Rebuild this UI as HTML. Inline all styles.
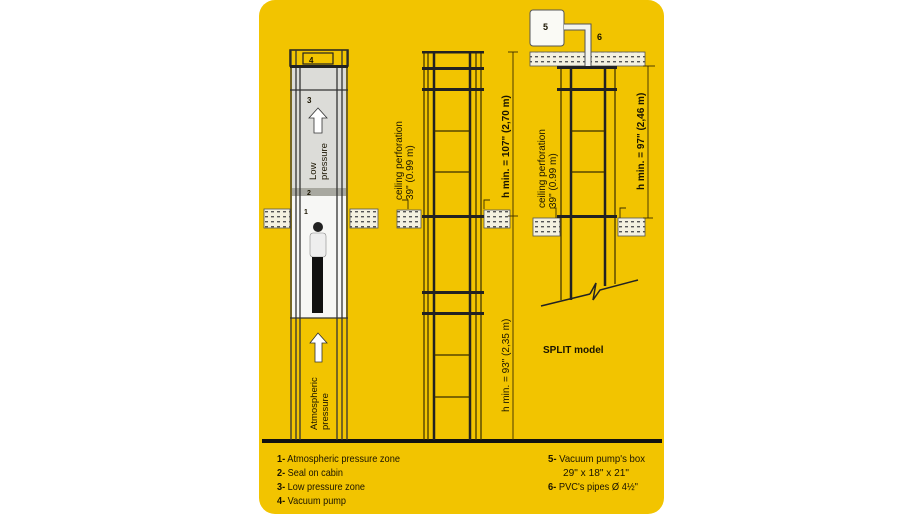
<!DOCTYPE html>
<html><head><meta charset="utf-8"><style>
html,body{margin:0;padding:0;background:#fff;width:915px;height:514px;overflow:hidden}
svg text{font-family:"Liberation Sans",sans-serif;fill:#1a1400}
</style></head><body>
<svg width="915" height="514" viewBox="0 0 915 514" xmlns="http://www.w3.org/2000/svg">
<defs>
<pattern id="hatch" width="6" height="5" patternUnits="userSpaceOnUse">
<rect width="6" height="5" fill="#f4f1e0"/>
<rect x="1" y="1" width="3" height="1.4" fill="#555"/>
</pattern>
</defs>
<rect x="259" y="0" width="405" height="514" rx="16" fill="#f2c400"/>

<rect x="262" y="439" width="400" height="4" fill="#111"/>

<!-- LEFT SHAFT -->
<rect x="292" y="66" width="54" height="123" fill="#dcdcd8"/>
<rect x="292" y="196" width="54" height="122" fill="#f7f7f5"/>
<rect x="292" y="188" width="54" height="8" fill="#a8a8a0"/>
<rect x="290" y="50" width="58" height="16" fill="#f2c400" stroke="#222" stroke-width="1.5"/>
<rect x="303" y="53" width="30" height="11" fill="#f2c400" stroke="#222" stroke-width="1.2"/>
<text x="309" y="63" font-size="8" font-weight="bold">4</text>
<g stroke="#333" stroke-width="1.3" fill="none">
<line x1="291" y1="50" x2="291" y2="440"/>
<line x1="296" y1="50" x2="296" y2="440"/>
<line x1="300" y1="66" x2="300" y2="440"/>
<line x1="337" y1="66" x2="337" y2="440"/>
<line x1="342" y1="50" x2="342" y2="440"/>
<line x1="347" y1="50" x2="347" y2="440"/>
<line x1="290" y1="90" x2="348" y2="90"/>
<line x1="290" y1="318" x2="348" y2="318"/>
</g>
<rect x="290" y="65" width="58" height="3" fill="#222"/>
<text x="307" y="103" font-size="8" font-weight="bold">3</text>
<polygon points="318,108 309,118 314,118 314,133 322,133 322,118 327,118" fill="#fff" stroke="#333" stroke-width="0.8"/>
<text transform="translate(316,180) rotate(-90)" font-size="9.5">Low</text>
<text transform="translate(327,180) rotate(-90)" font-size="9.5">pressure</text>
<text x="307" y="195" font-size="7" font-weight="bold">2</text>
<text x="304" y="214" font-size="7" font-weight="bold">1</text>
<circle cx="318" cy="227" r="5" fill="#222"/>
<rect x="310" y="233" width="16" height="24" rx="3" fill="#eee" stroke="#888" stroke-width="0.6"/>
<rect x="312" y="257" width="11" height="56" fill="#111"/>
<polygon points="318,333 310,343 315,343 315,362 322,362 322,343 327,343" fill="#fff" stroke="#333" stroke-width="0.8"/>
<text transform="translate(317,430) rotate(-90)" font-size="9.5">Atmospheric</text>
<text transform="translate(328,430) rotate(-90)" font-size="9.5">pressure</text>

<g stroke="#555" stroke-width="0.8">
<rect x="264" y="209" width="26" height="19" fill="url(#hatch)"/>
<rect x="350" y="209" width="28" height="19" fill="url(#hatch)"/>
<rect x="397" y="210" width="24" height="18" fill="url(#hatch)"/>
<rect x="484" y="210" width="26" height="18" fill="url(#hatch)"/>
<rect x="533" y="218" width="27" height="18" fill="url(#hatch)"/>
<rect x="618" y="218" width="27" height="18" fill="url(#hatch)"/>
<rect x="530" y="52" width="115" height="14" fill="url(#hatch)"/>
</g>

<!-- MIDDLE SHAFT -->
<g stroke="#3a2e00" fill="none">
<line x1="424" y1="52" x2="424" y2="440" stroke-width="1.2"/>
<line x1="428" y1="52" x2="428" y2="440" stroke-width="1.2"/>
<line x1="434" y1="52" x2="434" y2="440" stroke-width="2.5" stroke="#222"/>
<line x1="470" y1="52" x2="470" y2="440" stroke-width="2.5" stroke="#222"/>
<line x1="476" y1="52" x2="476" y2="440" stroke-width="1.2"/>
<line x1="481" y1="52" x2="481" y2="440" stroke-width="1.2"/>
<line x1="434" y1="131" x2="470" y2="131" stroke-width="1.2"/>
<line x1="434" y1="172" x2="470" y2="172" stroke-width="1.2"/>
<line x1="434" y1="355" x2="470" y2="355" stroke-width="1.2"/>
<line x1="434" y1="397" x2="470" y2="397" stroke-width="1.2"/>
</g>
<g fill="#222">
<rect x="422" y="51" width="62" height="2.5"/>
<rect x="422" y="67" width="62" height="3"/>
<rect x="422" y="88" width="62" height="3"/>
<rect x="422" y="215" width="62" height="3"/>
<rect x="422" y="291" width="62" height="3"/>
<rect x="422" y="312" width="62" height="3"/>
</g>
<g stroke="#3a2e00" stroke-width="0.9" fill="none">
<line x1="513" y1="52" x2="513" y2="440"/>
<line x1="508" y1="52" x2="518" y2="52"/>
<line x1="508" y1="216" x2="518" y2="216"/>
<polyline points="408,209 408,200 402,200"/>
<polyline points="484,209 484,200 490,200"/>
</g>
<text transform="translate(402,200) rotate(-90)" font-size="10">ceiling perforation</text>
<text transform="translate(413,200) rotate(-90)" font-size="10">39" (0.99 m)</text>
<text transform="translate(509,198) rotate(-90)" font-size="10" font-weight="bold">h min. = 107" (2,70 m)</text>
<text transform="translate(509,412) rotate(-90)" font-size="10">h min. = 93" (2,35 m)</text>

<!-- RIGHT SHAFT -->
<rect x="530" y="10" width="34" height="36" rx="3" fill="#fafaf5" stroke="#555" stroke-width="1"/>
<text x="543" y="30" font-size="9" font-weight="bold">5</text>
<path d="M564,27 H588 V66" fill="none" stroke="#555" stroke-width="7"/>
<path d="M564,27 H588 V66" fill="none" stroke="#f4f4ee" stroke-width="5"/>
<text x="597" y="40" font-size="9" font-weight="bold">6</text>
<g stroke="#3a2e00" fill="none">
<line x1="561" y1="66" x2="561" y2="300" stroke-width="1.2"/>
<line x1="571" y1="66" x2="571" y2="300" stroke-width="2.5" stroke="#222"/>
<line x1="605" y1="66" x2="605" y2="286" stroke-width="2.5" stroke="#222"/>
<line x1="615" y1="66" x2="615" y2="284" stroke-width="1.2"/>
<line x1="571" y1="131" x2="605" y2="131" stroke-width="1.2"/>
<line x1="571" y1="172" x2="605" y2="172" stroke-width="1.2"/>
<line x1="541" y1="306" x2="590" y2="294" stroke-width="1.5" stroke="#222"/>
<polyline points="590,294 596,283 593,300 600,290 638,280" stroke-width="1.5" stroke="#222"/>
<line x1="648" y1="66" x2="648" y2="218" stroke-width="0.9"/>
<line x1="643" y1="66" x2="655" y2="66" stroke-width="0.9"/>
<line x1="643" y1="218" x2="653" y2="218" stroke-width="0.9"/>
<polyline points="556,218 556,208 550,208" stroke-width="0.9"/>
<polyline points="620,218 620,208 626,208" stroke-width="0.9"/>
</g>
<g fill="#222">
<rect x="557" y="66" width="60" height="3"/>
<rect x="557" y="88" width="60" height="3"/>
<rect x="557" y="215" width="60" height="3"/>
</g>
<text transform="translate(545,208) rotate(-90)" font-size="10">ceiling perforation</text>
<text transform="translate(556,208) rotate(-90)" font-size="10">39" (0.99 m)</text>
<text transform="translate(644,190) rotate(-90)" font-size="10" font-weight="bold">h min. = 97" (2,46 m)</text>
<text x="543" y="353" font-size="10" font-weight="bold">SPLIT model</text>

<g font-size="10.5">
<text x="277" y="462" textLength="123" lengthAdjust="spacingAndGlyphs"><tspan font-weight="bold">1-</tspan> Atmospheric  pressure zone</text>
<text x="277" y="476" textLength="66" lengthAdjust="spacingAndGlyphs"><tspan font-weight="bold">2-</tspan> Seal on cabin</text>
<text x="277" y="490" textLength="88" lengthAdjust="spacingAndGlyphs"><tspan font-weight="bold">3-</tspan> Low pressure zone</text>
<text x="277" y="504" textLength="69" lengthAdjust="spacingAndGlyphs"><tspan font-weight="bold">4-</tspan> Vacuum pump</text>
<text x="548" y="462" textLength="97" lengthAdjust="spacingAndGlyphs"><tspan font-weight="bold">5-</tspan> Vacuum pump's box</text>
<text x="563" y="476" textLength="66" lengthAdjust="spacingAndGlyphs">29" x 18" x 21"</text>
<text x="548" y="490" textLength="90" lengthAdjust="spacingAndGlyphs"><tspan font-weight="bold">6-</tspan> PVC's pipes Ø 4½"</text>
</g>
</svg>
</body></html>
